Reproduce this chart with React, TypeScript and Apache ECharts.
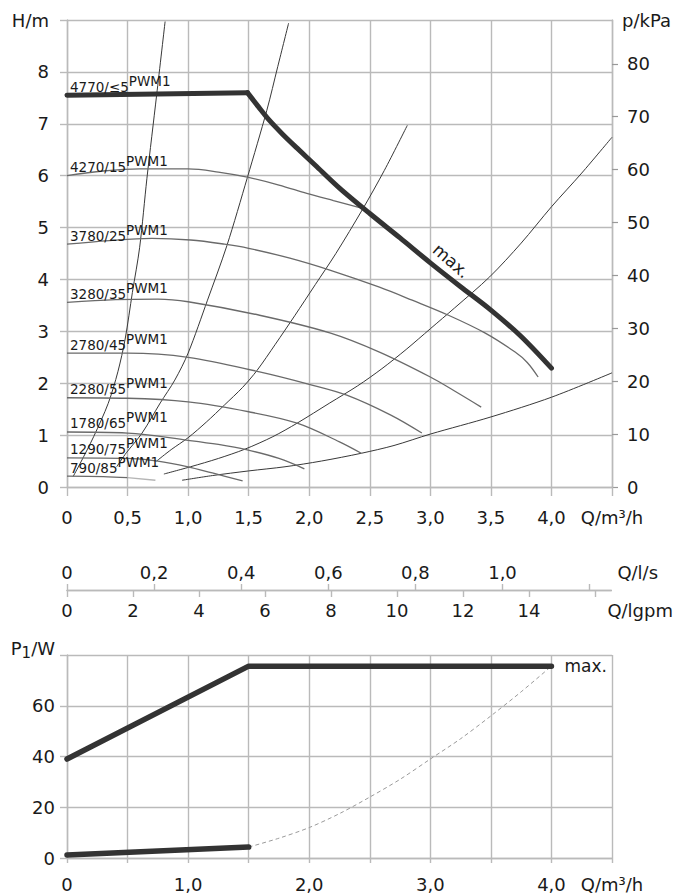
import React, { useEffect, useRef } from "react";
import * as echarts from "echarts";

// ---------- data (Q in m³/h, H in m, P1 in W) ----------
const pwmNames = ["4770/≤5", "4270/15", "3780/25", "3280/35", "2780/45", "2280/55", "1780/65", "1290/75", "790/85"];

const maxQ = [0, 1.49, 1.58, 1.67, 1.78, 1.9, 2.05, 2.25, 2.5, 2.75, 3.0, 3.25, 3.5, 3.75, 4.0];
const maxH = [7.55, 7.6, 7.33, 7.07, 6.8, 6.53, 6.2, 5.76, 5.27, 4.8, 4.32, 3.86, 3.41, 2.9, 2.29];

const pwm15Q = [0, 0.3, 0.6, 1.0, 1.25, 1.49, 1.75, 1.98, 2.2, 2.44];
const pwm15H = [6.0, 6.09, 6.13, 6.13, 6.07, 5.97, 5.82, 5.66, 5.52, 5.37];

const pwm25Q = [0, 0.35, 0.7, 1.02, 1.3, 1.5, 1.84, 2.17, 2.58, 2.85, 3.15, 3.45, 3.7, 3.8, 3.89];
const pwm25H = [4.68, 4.75, 4.79, 4.76, 4.68, 4.6, 4.41, 4.18, 3.85, 3.6, 3.31, 2.97, 2.6, 2.4, 2.12];

const pwm35Q = [0, 0.4, 0.75, 1.0, 1.59, 2.17, 2.58, 3.0, 3.2, 3.42];
const pwm35H = [3.56, 3.61, 3.62, 3.57, 3.31, 2.97, 2.6, 2.12, 1.85, 1.54];

const pwm45Q = [0, 0.5, 1.0, 1.59, 2.0, 2.31, 2.67, 2.93];
const pwm45H = [2.58, 2.58, 2.5, 2.22, 1.98, 1.77, 1.39, 1.04];

const pwm55Q = [0, 0.5, 1.0, 1.5, 1.9, 2.25, 2.43];
const pwm55H = [1.72, 1.71, 1.64, 1.45, 1.23, 0.87, 0.65];

const pwm65Q = [0, 0.5, 1.0, 1.25, 1.48, 1.75, 1.96];
const pwm65H = [1.06, 1.04, 0.9, 0.82, 0.72, 0.55, 0.35];

const pwm75Q = [0, 0.5, 0.75, 1.0, 1.2, 1.45];
const pwm75H = [0.56, 0.55, 0.5, 0.39, 0.27, 0.12];

const pwm85Q = [0, 0.3, 0.5, 0.73];
const pwm85H = [0.21, 0.2, 0.18, 0.13];

// system (resistance) curves
const sysAQ = [0.05, 0.11, 0.22, 0.34, 0.42, 0.48, 0.54, 0.6, 0.66, 0.74, 0.81];
const sysAH = [0.2, 0.46, 0.97, 1.61, 2.22, 2.85, 3.75, 4.62, 5.95, 7.55, 8.97];
const sysBQ = [0.41, 0.49, 0.62, 0.77, 0.89, 1.0, 1.16, 1.32, 1.49, 1.65, 1.74, 1.83];
const sysBH = [0.39, 0.66, 1.04, 1.62, 2.06, 2.58, 3.6, 4.65, 5.97, 7.26, 8.1, 8.94];
const sysCQ = [0.74, 0.86, 1.0, 1.15, 1.3, 1.45, 1.57, 1.72, 1.88, 2.05, 2.22, 2.44, 2.62, 2.81];
const sysCH = [0.5, 0.72, 0.95, 1.25, 1.58, 1.92, 2.25, 2.75, 3.3, 3.9, 4.5, 5.35, 6.1, 6.97];
const sysDQ = [0.8, 1.02, 1.25, 1.47, 1.7, 1.9, 2.17, 2.4, 2.6, 2.8, 3.0, 3.2, 3.49, 3.75, 4.0, 4.25, 4.5];
const sysDH = [0.25, 0.39, 0.55, 0.73, 0.97, 1.23, 1.62, 1.95, 2.28, 2.65, 3.05, 3.45, 4.05, 4.7, 5.4, 6.05, 6.74];
const sysEQ = [0.95, 1.2, 1.5, 1.8, 2.1, 2.43, 2.7, 3.0, 3.5, 4.0, 4.5];
const sysEH = [0.13, 0.22, 0.31, 0.39, 0.5, 0.65, 0.8, 1.02, 1.35, 1.73, 2.2];

// power input
const pMaxQ = [0, 1.5, 4.0];
const pMaxP = [39, 75.6, 75.6];
const pMinQ = [0, 1.5];
const pMinP = [1.2, 4.3];
const pCurveQ = [1.5, 1.75, 2.0, 2.25, 2.5, 2.75, 3.0, 3.25, 3.5, 3.75, 4.0];
const pCurveP = [4.3, 7.8, 12, 17.5, 24, 31, 39, 47, 56, 65.5, 75.6];

// tick labels
const qTickLabels = ["0", "0,5", "1,0", "1,5", "2,0", "2,5", "3,0", "3,5", "4,0", "Q/m³/h"];
const hTickLabels = ["0", "1", "2", "3", "4", "5", "6", "7", "8", "H/m"];
const kpaTicks = [0, 10, 20, 30, 40, 50, 60, 70, 80];
const kpaTickLabels = ["0", "10", "20", "30", "40", "50", "60", "70", "80"];
const lsTicks = [0, 0.2, 0.4, 0.6, 0.8, 1.0, 1.2];
const lsTickLabels = ["0", "0,2", "0,4", "0,6", "0,8", "1,0", ""];
const lgpmTicks = [0, 2, 4, 6, 8, 10, 12, 14, 16];
const lgpmTickLabels = ["0", "2", "4", "6", "8", "10", "12", "14", ""];
const pTickLabels = ["0", "20", "40", "60", "{p|P}{s|1}{p|/W}"];
const qTickLabelsBottom = ["0", "", "1,0", "", "2,0", "", "3,0", "", "4,0", "Q/m³/h"];

// unit conversions
const KPA_PER_M = 9.81;
const M3H_PER_LS = 3.6;
const M3H_PER_LGPM = (60 * 4.54609) / 1000;
const Q_MAX = 4.5;
const H_MAX = 9;

// ---------- styles ----------
const FONT = "'DejaVu Sans', Verdana, sans-serif";
const GRID = "#bababa";
const TXT = "#1a1a1a";
const PWM_COLOR = "#6a6a6a";
const SYS_COLOR = "#383838";
const THICK = "#333333";
const FS = 18;
const LABEL_FS = 13.5;

const zip = (q: number[], v: number[]) => q.map((x, i) => [x, v[i]]);
const pick = (labels: string[], step: number) => (v: number) => {
  const i = Math.round(v / step);
  if (Math.abs(i * step - v) > 1e-6) return "";
  return labels[i] ?? "";
};
const pickList = (values: number[], labels: string[]) => (v: number) => {
  const i = values.findIndex((x) => Math.abs(x - v) < 1e-6);
  return i < 0 ? "" : labels[i] ?? "";
};

const pwmCurves = [
  { q: pwm15Q, h: pwm15H },
  { q: pwm25Q, h: pwm25H },
  { q: pwm35Q, h: pwm35H },
  { q: pwm45Q, h: pwm45H },
  { q: pwm55Q, h: pwm55H },
  { q: pwm65Q, h: pwm65H },
  { q: pwm75Q, h: pwm75H },
];
const sysCurves = [
  { q: sysAQ, h: sysAH },
  { q: sysBQ, h: sysBH },
  { q: sysCQ, h: sysCH },
  { q: sysDQ, h: sysDH },
  { q: sysEQ, h: sysEH },
];
const labelStarts = [
  [maxQ[0], maxH[0]],
  ...pwmCurves.map((c) => [c.q[0], c.h[0]]),
  [pwm85Q[0], pwm85H[0]],
];

const axisLineStyle = { show: true, lineStyle: { color: GRID, width: 1.4 } };
const splitStyle = { show: true, lineStyle: { color: GRID, width: 1.4 } };
const tickStyle = (length: number) => ({ show: true, length, lineStyle: { color: GRID, width: 1.4 } });
const lbl = (margin: number, formatter: any) => ({
  fontSize: FS,
  fontFamily: FONT,
  color: TXT,
  margin,
  formatter,
});
const nameStyle = (extra: any) => ({ fontSize: FS, fontFamily: FONT, color: TXT, ...extra });

const thin = (data: number[][], color: string, width: number, smooth: number, z: number) => ({
  type: "line",
  xAxisIndex: 0,
  yAxisIndex: 0,
  data,
  smooth,
  showSymbol: false,
  silent: true,
  lineStyle: { color, width },
  z,
});

function buildOption(): any {
  const series: any[] = [];
  sysCurves.forEach((c) => series.push(thin(zip(c.q, c.h), SYS_COLOR, 1, 0.3, 3)));
  pwmCurves.forEach((c) => series.push(thin(zip(c.q, c.h), PWM_COLOR, 1.3, 0.35, 4)));
  series.push(thin(zip(pwm85Q.slice(0, 3), pwm85H.slice(0, 3)), PWM_COLOR, 1.3, 0.35, 4));
  series.push(thin(zip(pwm85Q.slice(2), pwm85H.slice(2)), "#b5b5b5", 1.3, 0.35, 4));
  // max curve: flat part + falling part
  series.push({
    ...thin(zip(maxQ.slice(0, 2), maxH.slice(0, 2)), THICK, 5, 0, 6),
    lineStyle: { color: THICK, width: 5, cap: "round", join: "round" },
  });
  series.push({
    ...thin(zip(maxQ.slice(1), maxH.slice(1)), THICK, 5, 0.3, 6),
    lineStyle: { color: THICK, width: 5, cap: "round", join: "round" },
  });

  // power chart
  series.push({
    type: "line",
    xAxisIndex: 3,
    yAxisIndex: 2,
    data: zip(pCurveQ, pCurveP),
    smooth: 0.3,
    showSymbol: false,
    silent: true,
    lineStyle: { color: "#9a9a9a", width: 1, type: [4, 3] },
    z: 3,
  });
  series.push({
    type: "line",
    xAxisIndex: 3,
    yAxisIndex: 2,
    data: zip(pMaxQ, pMaxP),
    showSymbol: false,
    silent: true,
    lineStyle: { color: THICK, width: 5.5, cap: "round", join: "round" },
    z: 6,
  });
  series.push({
    type: "line",
    xAxisIndex: 3,
    yAxisIndex: 2,
    data: zip(pMinQ, pMinP),
    showSymbol: false,
    silent: true,
    lineStyle: { color: THICK, width: 5.5, cap: "round" },
    z: 6,
  });

  return {
    animation: false,
    backgroundColor: "#ffffff",
    textStyle: { fontFamily: FONT },
    grid: [
      { left: 67, right: 62, top: 20, height: 467 },
      { left: 67, right: 62, top: 590, height: 0 },
      { left: 67, right: 62, top: 655, height: 203 },
    ],
    xAxis: [
      {
        type: "value",
        gridIndex: 0,
        min: 0,
        max: Q_MAX,
        interval: 0.5,
        axisLine: axisLineStyle,
        axisTick: tickStyle(9),
        splitLine: splitStyle,
        axisLabel: lbl(21, pick(qTickLabels, 0.5)),
      },
      {
        type: "value",
        gridIndex: 1,
        position: "top",
        min: 0,
        max: Q_MAX / M3H_PER_LS,
        interval: 0.2,
        axisLine: axisLineStyle,
        axisTick: { ...tickStyle(6), customValues: lsTicks },
        splitLine: { show: false },
        axisLabel: { ...lbl(9, pickList(lsTicks, lsTickLabels)), customValues: lsTicks.slice(0, 6) },
        name: "Q/l/s",
        nameLocation: "end",
        nameGap: 6,
        nameTextStyle: nameStyle({ verticalAlign: "bottom", align: "left", padding: [0, 0, 9, 0] }),
      },
      {
        type: "value",
        gridIndex: 1,
        position: "bottom",
        min: 0,
        max: Q_MAX / M3H_PER_LGPM,
        interval: 2,
        axisLine: axisLineStyle,
        axisTick: { ...tickStyle(7), customValues: lgpmTicks },
        splitLine: { show: false },
        axisLabel: { ...lbl(11, pickList(lgpmTicks, lgpmTickLabels)), customValues: lgpmTicks.slice(0, 8) },
        name: "Q/lgpm",
        nameLocation: "end",
        nameGap: -4,
        nameTextStyle: nameStyle({ verticalAlign: "top", align: "left", padding: [11, 0, 0, 0] }),
      },
      {
        type: "value",
        gridIndex: 2,
        min: 0,
        max: Q_MAX,
        interval: 0.5,
        axisLine: axisLineStyle,
        axisTick: tickStyle(5),
        splitLine: splitStyle,
        axisLabel: lbl(17, pick(qTickLabelsBottom, 0.5)),
      },
    ],
    yAxis: [
      {
        type: "value",
        gridIndex: 0,
        min: 0,
        max: H_MAX,
        interval: 1,
        axisLine: axisLineStyle,
        axisTick: tickStyle(7),
        splitLine: splitStyle,
        axisLabel: lbl(18, pick(hTickLabels, 1)),
      },
      {
        type: "value",
        gridIndex: 0,
        position: "right",
        min: 0,
        max: H_MAX * KPA_PER_M,
        interval: 10,
        axisLine: axisLineStyle,
        axisTick: { show: true, length: 6, lineStyle: { color: "#999999", width: 1.2 }, customValues: kpaTicks },
        splitLine: { show: false },
        axisLabel: { ...lbl(15, pickList(kpaTicks, kpaTickLabels)), customValues: kpaTicks },
        name: "p/kPa",
        nameLocation: "end",
        nameGap: 0,
        nameTextStyle: nameStyle({ align: "left", verticalAlign: "middle", padding: [0, 0, 0, 10] }),
      },
      {
        type: "value",
        gridIndex: 2,
        min: 0,
        max: 80,
        interval: 20,
        axisLine: axisLineStyle,
        axisTick: tickStyle(7),
        splitLine: splitStyle,
        axisLabel: {
          ...lbl(12, pick(pTickLabels, 20)),
          rich: {
            p: { fontSize: FS, fontFamily: FONT, color: TXT, verticalAlign: "top", padding: [0, 0, 14, 0] },
            s: { fontSize: 15, fontFamily: FONT, color: TXT, verticalAlign: "top", padding: [6, 0, 8, 0] },
          },
        },
      },
      { type: "value", gridIndex: 1, show: false, min: 0, max: 1 },
    ],
    series,
  };
}

function buildGraphics(chart: any): any[] {
  const out: any[] = [];
  const top = { xAxisIndex: 0, yAxisIndex: 0 };
  labelStarts.forEach((p, i) => {
    const px = chart.convertToPixel(top, p);
    out.push({
      type: "text",
      x: px[0] + 3,
      y: px[1] - 1.5,
      silent: true,
      z: 100,
      style: {
        text: `{a|${pwmNames[i]}}{b|PWM1}`,
        align: "left",
        verticalAlign: "bottom",
        fill: TXT,
        fontSize: LABEL_FS,
        fontFamily: FONT,
        rich: {
          a: { fill: TXT, fontSize: LABEL_FS, fontFamily: FONT, padding: [6, 0, 0, 0] },
          b: { fill: TXT, fontSize: LABEL_FS, fontFamily: FONT, padding: [0, 0, 6, 0] },
        },
      },
    });
  });
  // "max." beside the head curve, anchored on its point at Q = 3,0
  const mp = chart.convertToPixel(top, [maxQ[10], maxH[10]]);
  out.push({
    type: "text",
    x: mp[0] + 21,
    y: mp[1] - 2,
    rotation: -0.72,
    silent: true,
    z: 100,
    style: { text: "max.", align: "center", verticalAlign: "middle", fill: TXT, fontSize: 17, fontFamily: FONT },
  });
  const bp = chart.convertToPixel({ xAxisIndex: 3, yAxisIndex: 2 }, [pMaxQ[2], pMaxP[2]]);
  out.push({
    type: "text",
    x: bp[0] + 13,
    y: bp[1],
    silent: true,
    z: 100,
    style: { text: "max.", align: "left", verticalAlign: "middle", fill: TXT, fontSize: 17, fontFamily: FONT },
  });
  return out;
}

export default function App() {
  const ref = useRef<HTMLDivElement>(null);
  useEffect(() => {
    if (!ref.current) return;
    const chart = echarts.init(ref.current, undefined, { renderer: "svg" });
    chart.setOption(buildOption());
    chart.setOption({ graphic: buildGraphics(chart) });
    return () => chart.dispose();
  }, []);
  return (
    <div
      ref={ref}
      style={{ position: "fixed", left: 0, top: 0, width: 674, height: 895, background: "#ffffff" }}
    />
  );
}
